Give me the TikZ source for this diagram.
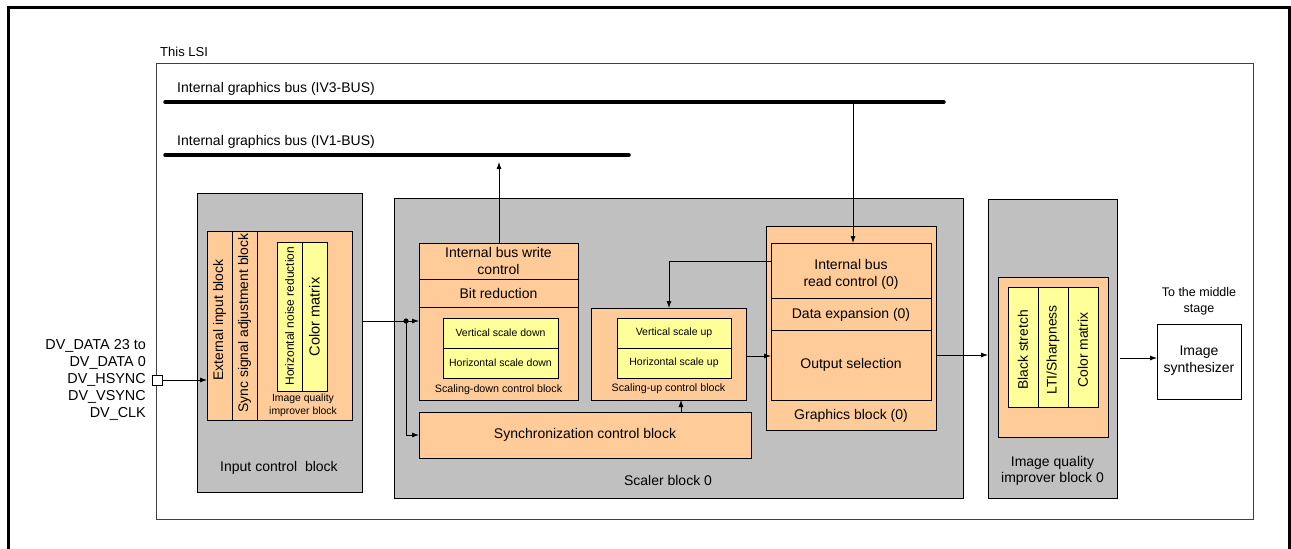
\documentclass[tikz,border=0pt]{standalone}
\usepackage{fontspec}
\setmainfont{Liberation Sans}
\usetikzlibrary{arrows.meta}
\definecolor{grayfill}{HTML}{C0C0C0}
\definecolor{orangefill}{HTML}{FFCC99}
\definecolor{yellowfill}{HTML}{FFFF99}
\begin{document}
\begin{tikzpicture}[x=1pt,y=-1pt,
  box/.style={draw=black,line width=0.8pt,anchor=north west,inner sep=0pt,outer sep=0pt},
  graybox/.style={box,fill=grayfill},
  orangebox/.style={box,fill=orangefill},
  yellowbox/.style={box,fill=yellowfill},
  lbl/.style={inner sep=0pt,align=center,font=\fontsize{14}{16.5}\selectfont},
  small/.style={inner sep=0pt,align=center,font=\fontsize{10.5}{13}\selectfont},
  tiny/.style={inner sep=0pt,align=center,font=\fontsize{10.4}{13}\selectfont},
  vlbl/.style={inner sep=0pt,rotate=90,font=\fontsize{13.9}{16}\selectfont},
  bus/.style={line width=3.5pt,line cap=round},
  conn/.style={line width=0.8pt},
  arr/.style={conn,-{Latex[length=7pt,width=5pt]}}
]
\useasboundingbox (0,0) rectangle (1291,549);
% outer frame
\draw[line width=3pt] (8,549) -- (8,7) -- (1289,7) -- (1289,549);
% LSI frame
\node[inner sep=0pt,anchor=south west,font=\fontsize{13}{15}\selectfont] (lsilbl) at (160,57) {This LSI};
\node[box,draw=black!75,line width=1pt,minimum width=1097pt,minimum height=456pt] (lsi) at (156,63) {};
% buses
\coordinate (iv3a) at (165,102);
\coordinate (iv3b) at (944,102);
\coordinate (iv1a) at (165,155);
\coordinate (iv1b) at (629,155);
\draw[bus] (iv3a) -- (iv3b);
\draw[bus] (iv1a) -- (iv1b);
\node[inner sep=0pt,anchor=south west,font=\fontsize{14}{16}\selectfont] (iv3lbl) at (177,96) {Internal graphics bus (IV3-BUS)};
\node[inner sep=0pt,anchor=south west,font=\fontsize{14}{16}\selectfont] (iv1lbl) at (177,149) {Internal graphics bus (IV1-BUS)};

% ---------------- Input control block
\node[graybox,minimum width=165pt,minimum height=299pt] (inblk) at (197,193) {};
\node[lbl] (inlbl) at (279,468) {Input control\ \ block};
\node[orangebox,minimum width=25pt,minimum height=189pt] (extin) at (207,231) {};
\node[orangebox,minimum width=25pt,minimum height=189pt] (syncadj) at (232,231) {};
\node[orangebox,minimum width=95pt,minimum height=189pt] (iqin) at (257,231) {};
\node[vlbl] at (219.5,320) {External input block};
\node[vlbl] at (244.5,323) {Sync signal adjustment block};
\node[yellowbox,minimum width=25pt,minimum height=149pt] (hnr) at (277,242) {};
\node[yellowbox,minimum width=25pt,minimum height=149pt] (cmin) at (302,242) {};
\node[vlbl,font=\fontsize{12}{14}\selectfont] at (289.5,316) {Horizontal noise reduction};
\node[vlbl,font=\fontsize{14.6}{16}\selectfont] at (314.5,317) {Color matrix};
\node[tiny] (iqinlbl) at (303,405.5) {Image quality\\improver block};

% DV signals
\node[inner sep=0pt,anchor=east,align=right,font=\fontsize{14.4}{17}\selectfont] (dvtext) at (146,380) {DV\_DATA 23 to\\DV\_DATA 0\\DV\_HSYNC\\DV\_VSYNC\\DV\_CLK};
\node[draw=black,line width=0.8pt,fill=white,minimum size=10pt,inner sep=0pt] (pin) at (157,380) {};
\draw[arr] (pin.east) -- (extin.west |- pin.east);

% ---------------- Scaler block
\node[graybox,minimum width=569pt,minimum height=300pt] (scaler) at (394,198) {};
\node[lbl] (scalerlbl) at (668,480) {Scaler block 0};
\node[orangebox,minimum width=159pt,minimum height=36pt] (wrctl) at (419,243) {};
\node[lbl] at (498.5,261) {Internal bus write\\control};
\node[orangebox,minimum width=159pt,minimum height=28pt] (bitred) at (419,279) {};
\node[lbl] at (498.5,293) {Bit reduction};
\node[orangebox,minimum width=159pt,minimum height=93pt] (sdown) at (419,307) {};
\node[yellowbox,minimum width=115pt,minimum height=30pt] (vsd) at (443,318) {};
\node[small] at (500.5,333) {Vertical scale down};
\node[yellowbox,minimum width=115pt,minimum height=30pt] (hsd) at (443,348) {};
\node[small] at (500.5,363) {Horizontal scale down};
\node[small,font=\fontsize{10.7}{12}\selectfont] (sdownlbl) at (498.5,389.5) {Scaling-down control block};

\node[orangebox,minimum width=155pt,minimum height=92pt] (sup) at (591,308) {};
\node[yellowbox,minimum width=114pt,minimum height=30pt] (vsu) at (617,318) {};
\node[small] at (674,333) {Vertical scale up};
\node[yellowbox,minimum width=114pt,minimum height=30pt] (hsu) at (617,348) {};
\node[small] at (674,363) {Horizontal scale up};
\node[small,font=\fontsize{10.7}{12}\selectfont] (suplbl) at (668.5,388.5) {Scaling-up control block};

\node[orangebox,minimum width=332pt,minimum height=46pt] (syncctl) at (419,412) {};
\node[lbl] at (585,435) {Synchronization control block};

% graphics block
\node[orangebox,minimum width=170pt,minimum height=204pt] (gfx) at (766,226) {};
\node[orangebox,minimum width=160pt,minimum height=55pt] (rdctl) at (771,243) {};
\node[lbl] at (851,274.5) {Internal bus\\read control (0)};
\node[orangebox,minimum width=160pt,minimum height=32pt] (dexp) at (771,298) {};
\node[lbl] at (851,315) {Data expansion (0)};
\node[orangebox,minimum width=160pt,minimum height=70pt] (outsel) at (771,330) {};
\node[lbl] at (851,365) {Output selection};
\node[lbl] (gfxlbl) at (851,415.5) {Graphics block (0)};

% ---------------- Image quality improver block 0
\node[graybox,minimum width=129pt,minimum height=299pt] (iqblk) at (988,199) {};
\node[lbl] (iqlbl) at (1052.5,471) {Image quality\\improver block 0};
\node[orangebox,minimum width=110pt,minimum height=160pt] (iqor) at (998,277) {};
\node[yellowbox,minimum width=30pt,minimum height=120pt] (bs) at (1008,287) {};
\node[yellowbox,minimum width=30pt,minimum height=120pt] (lti) at (1038,287) {};
\node[yellowbox,minimum width=30pt,minimum height=120pt] (cm) at (1068,287) {};
\node[vlbl] at (1023,350) {Black stretch};
\node[vlbl] at (1053,350) {LTI/Sharpness};
\node[vlbl] at (1083,350) {Color matrix};

% image synthesizer
\node[inner sep=0pt,align=center,font=\fontsize{12.5}{15.5}\selectfont] (midlbl) at (1199,301.5) {To the middle\\stage};
\node[box,fill=white,minimum width=84pt,minimum height=75pt] (synth) at (1157,324) {};
\node[lbl] at (1199,360.5) {Image\\synthesizer};

% ---------------- connectors
\coordinate (dot) at (406,321);
\draw[conn] (inblk.east |- dot) -- (dot);
\fill (dot) circle (2.6pt);
\draw[arr] (dot) -- (sdown.west |- dot);
\draw[arr] (dot) |- (syncctl.west);
\draw[arr] (wrctl.north -| 499,0) -- (499,162);
\draw[arr] (853,102) -- (rdctl.north -| 853,0);
\draw[arr] (rdctl.west |- 0,261) -| (sup.north -| 669,0);
\draw[arr] (syncctl.north -| 681,0) -- (sup.south -| 681,0);
\draw[arr] (sup.east |- 0,356) -- (outsel.west |- 0,356);
\draw[arr] (gfx.east |- 0,355) -- (iqblk.west |- 0,355);
\draw[arr] (1120,358) -- (synth.west |- 0,358);
\end{tikzpicture}
\end{document}
